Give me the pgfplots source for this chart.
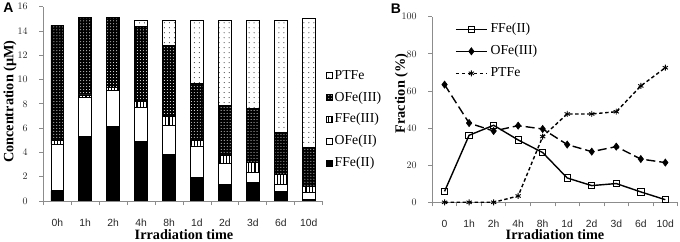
\documentclass[border=0pt]{standalone}
\usepackage{fontspec}
\setmainfont{Liberation Serif}
\newfontfamily\arial{Liberation Sans}
\usepackage{pgfplots}
\pgfplotsset{compat=1.18}
\usetikzlibrary{patterns,patterns.meta}
\newcommand{\labfont}{\bfseries\fontsize{14.3}{16}\selectfont}
\pgfplotsset{
  common/.style={
    scale only axis, enlargelimits=false,
    xmin=-0.5, xmax=9.5,
    axis x line*=bottom, axis y line*=left,
    axis line style={black!45, line width=0.8pt},
    xtick={-0.5,0.5,...,9.5},
    x tick label as interval,
    tick align=outside,
    tick style={black!45, line width=0.8pt},
    major tick length=4bp,
    tick label style={font=\arial\fontsize{10.4}{12}\selectfont, text=black!85},
    xticklabel style={anchor=base, inner sep=0pt, yshift=-21bp},
    yticklabel style={anchor=east, inner sep=0pt, xshift=-11.5bp},
    legend style={draw=none, fill=none, font=\fontsize{13.8}{16}\selectfont,
       nodes={inner sep=0pt, text height=10bp, text depth=3bp}},
    legend cell align=left,
  },
  sqleg/.style={legend image code/.code={\draw[##1, line width=0.7bp] (0bp,-3bp) rectangle (6bp,3bp);}},
  lineleg/.style={legend image code/.code={\draw[mark repeat=2,mark phase=2,##1] plot coordinates {(0bp,0bp) (15.5bp,0bp) (31bp,0bp)};}},
  linelegsolid/.style={legend image code/.code={\draw[mark repeat=2,mark phase=2,##1,solid] plot coordinates {(0bp,0bp) (15.5bp,0bp) (31bp,0bp)};}},
}
\begin{document}
\begin{tikzpicture}
\useasboundingbox (0,0) rectangle (680bp,242bp);
% Panel A
\begin{axis}[common,
  at={(43.3bp,41bp)}, anchor=south west,
  width=279.4bp, height=194.3bp,
  ymin=0, ymax=16, ytick={0,2,...,16},
  xticklabels={0h,1h,2h,4h,8h,1d,2d,3d,6d,10d},
  ybar stacked, bar width=0.45,
  ylabel={Concentration (μM)},
  xlabel={Irradiation time},
  every axis y label/.style={at={(axis description cs:-0.1192,0.511)}, rotate=90, anchor=center, font=\labfont},
  every axis x label/.style={at={(axis description cs:0.5036,-0.1715)}, anchor=center, font=\labfont},
  legend style={at={(axis description cs:1.0021,0.4195)}, anchor=west, row sep=8.9bp, column sep=1.5bp},
  reverse legend,
]
\addplot[draw=black, line width=0.9bp, fill=black, sqleg] coordinates
  {(0,0.85) (1,5.30) (2,6.12) (3,4.94) (4,3.87) (5,1.92) (6,1.35) (7,1.51) (8,0.80) (9,0.16)};
\addplot[draw=black, line width=0.9bp, fill=white, sqleg] coordinates
  {(0,3.82) (1,3.20) (2,2.96) (3,2.77) (4,2.36) (5,2.61) (6,1.75) (7,0.85) (8,0.55) (9,0.58)};
\addplot[draw=black, line width=0.9bp, fill=white, postaction={pattern={Lines[angle=90,distance=3.2pt,line width=1.2pt]}, pattern color=black}, sqleg] coordinates
  {(0,0.35) (1,0.23) (2,0.28) (3,0.52) (4,0.71) (5,0.49) (6,0.66) (7,0.85) (8,0.82) (9,0.44)};
\addplot[draw=black, line width=0.9bp, fill=black, postaction={pattern=dots, pattern color=white}, sqleg] coordinates
  {(0,9.44) (1,6.39) (2,5.76) (3,6.18) (4,5.85) (5,4.64) (6,4.07) (7,4.39) (8,3.51) (9,3.24)};
\addplot[draw=black, line width=0.9bp, fill=white, postaction={pattern={Dots[distance=5pt,radius=0.5pt]}, pattern color=black}, sqleg] coordinates
  {(0,0) (1,0) (2,0) (3,0.49) (4,2.11) (5,5.19) (6,7.02) (7,7.25) (8,9.17) (9,10.63)};
\legend{FFe(II),OFe(II),FFe(III),OFe(III),PTFe}
\end{axis}
% Panel B
\begin{axis}[common,
  at={(432.3bp,39.7bp)}, anchor=south west,
  width=245.3bp, height=185.6bp,
  ymin=0, ymax=100, ytick={0,20,...,100},
  xticklabels={0,1h,2h,4h,8h,1d,2d,3d,6d,10d},
  ylabel={Fraction (\%)},
  xlabel={Irradiation time},
  every axis y label/.style={at={(axis description cs:-0.1256,0.586)}, rotate=90, anchor=center, font=\labfont},
  every axis x label/.style={at={(axis description cs:0.5002,-0.1725)}, anchor=center, font=\labfont},
  legend style={at={(axis description cs:0.0803,0.8136)}, anchor=west, row sep=9bp, column sep=3bp},
]
\addplot[black, line width=1.4bp, mark=square, mark size=3.2bp, mark options={solid, fill=white, line width=0.9bp}, lineleg] coordinates
  {(0,5.9) (1,36.1) (2,41.5) (3,33.6) (4,26.8) (5,13.1) (6,9.0) (7,10.1) (8,5.6) (9,1.4)};
\addplot[black, line width=1.4bp, dash pattern=on 9bp off 4bp, mark=diamond*, mark size=3.6bp, mark options={solid, line width=0.6bp}, linelegsolid] coordinates
  {(0,63.4) (1,42.7) (2,38.4) (3,41.3) (4,39.5) (5,31.1) (6,27.3) (7,30.0) (8,23.3) (9,21.4)};
\addplot[black, line width=1.4bp, dash pattern=on 3.5bp off 2.5bp, mark=asterisk, mark size=3bp, mark options={solid, line width=0.9bp}, lineleg] coordinates
  {(0,0) (1,0) (2,0) (3,3.4) (4,35.4) (5,47.6) (6,47.6) (7,48.8) (8,62.7) (9,72.5)};
\legend{FFe(II),OFe(III),PTFe}
\end{axis}
\node[font=\arial\bfseries\fontsize{14}{16}\selectfont, anchor=center] at (8.5bp,234bp) {A};
\node[font=\arial\bfseries\fontsize{14}{16}\selectfont, anchor=center] at (396bp,233.7bp) {B};
\end{tikzpicture}
\end{document}
